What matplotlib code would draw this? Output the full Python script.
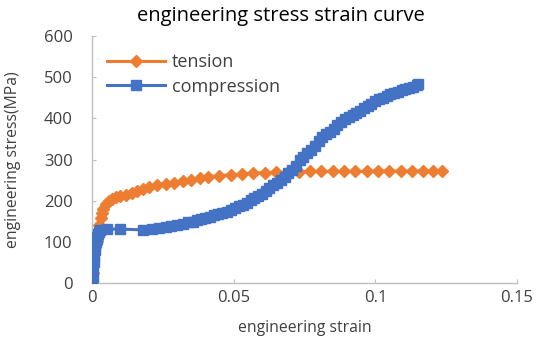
import matplotlib
matplotlib.use("Agg")
import matplotlib.pyplot as plt

plt.rcParams['font.family'] = ['Open Sans', 'DejaVu Sans']

title = "engineering stress strain curve"
xlabel = "engineering strain"
ylabel = "engineering stress(MPa)"
xticks = [0, 0.05, 0.1, 0.15]
xticklabels = ["0", "0.05", "0.1", "0.15"]
yticks = [0, 100, 200, 300, 400, 500, 600]

tension_strain = [0, 0.0002, 0.0004, 0.0006, 0.0008, 0.001, 0.0013, 0.0016, 0.002, 0.0025,
                  0.003, 0.0035, 0.004, 0.005, 0.006, 0.007, 0.0085, 0.010, 0.012, 0.014,
                  0.016, 0.018, 0.020, 0.023, 0.026, 0.029, 0.032, 0.035, 0.038, 0.041,
                  0.045, 0.049, 0.053, 0.057, 0.061, 0.065, 0.069, 0.073, 0.077, 0.081,
                  0.085, 0.089, 0.093, 0.097, 0.101, 0.105, 0.109, 0.113, 0.117, 0.1205, 0.1235]
tension_stress = [0, 25, 55, 70, 80, 88, 95, 102, 118, 140,
                  158, 171, 180, 191, 200, 205, 209, 211, 214, 219,
                  224, 229, 233, 237, 241, 244, 247, 251, 255, 258,
                  261, 263, 265, 267, 268, 269, 270, 270, 271, 271,
                  271, 271, 271, 271, 272, 272, 272, 272, 272, 272, 272]

compression_strain = [0, 0.0002, 0.0004, 0.0006, 0.0008, 0.001, 0.0012, 0.0014, 0.0016, 0.0018,
                      0.002, 0.0023, 0.0028, 0.0053, 0.0099, 0.018, 0.021, 0.0235, 0.026, 0.028,
                      0.030, 0.032, 0.034, 0.0355, 0.037, 0.0385, 0.040, 0.0415, 0.043, 0.0445,
                      0.046, 0.0475, 0.049, 0.0505, 0.052, 0.0533, 0.0546, 0.056, 0.0573, 0.0586,
                      0.060, 0.0613, 0.0626, 0.064, 0.0653, 0.0666, 0.068, 0.0693, 0.0706, 0.072,
                      0.0733, 0.0746, 0.076, 0.0773, 0.0786, 0.080, 0.0813, 0.0826, 0.084, 0.0853,
                      0.0866, 0.088, 0.0893, 0.0906, 0.092, 0.0933, 0.0946, 0.096, 0.0973, 0.0986,
                      0.100, 0.1013, 0.1026, 0.104, 0.1053, 0.1066, 0.108, 0.1093, 0.1106, 0.112,
                      0.1133, 0.1146, 0.115]
compression_stress = [0, 15, 39, 52, 66, 80, 90, 99, 106, 112,
                      118, 124, 129, 131, 131, 129, 131, 134, 136, 138,
                      141, 144, 147, 149, 152, 155, 158, 161, 164, 167,
                      170, 173, 177, 181, 186, 190, 195, 201, 206, 211,
                      217, 224, 231, 238, 243, 250, 258, 266, 274, 284,
                      298, 306, 315, 324, 333, 344, 354, 361, 368, 375,
                      384, 392, 398, 404, 409, 414, 419, 425, 430, 436,
                      441, 446, 450, 454, 458, 462, 465, 468, 471, 474,
                      477, 480, 483]

orange = "#ED7D31"
blue = "#4472C4"
text_color = "#404040"
axis_color = "#BFBFBF"

fig = plt.figure(figsize=(5.41, 3.44), dpi=100)
ax = fig.add_axes([92/541, 1 - 283/344, (517 - 92)/541, (283 - 36)/344])

ax.plot(tension_strain, tension_stress, color=orange, lw=2.2, marker='D', ms=6.5,
        label="tension", zorder=2)
ax.plot(compression_strain, compression_stress, color=blue, lw=2.2, marker='s', ms=6.5,
        label="compression", zorder=3)

ax.set_xlim(0, 0.15)
ax.set_ylim(0, 600)
ax.set_xticks(xticks)
ax.set_xticklabels(xticklabels)
ax.set_yticks(yticks)

for s in ["top", "right"]:
    ax.spines[s].set_visible(False)
for s in ["left", "bottom"]:
    ax.spines[s].set_color(axis_color)
    ax.spines[s].set_linewidth(1.0)
ax.tick_params(axis='both', direction='in', length=3, color=axis_color,
               labelcolor=text_color, labelsize=12)
ax.tick_params(axis='x', pad=5)
ax.tick_params(axis='y', pad=14)
ax.patch.set_visible(False)

fig.text(281/541, 1 - 16/344, title, fontsize=14.5, color="#000000",
         ha='center', va='center')
ax.set_xlabel(xlabel, fontsize=11.3, color=text_color, labelpad=10)
ax.set_ylabel(ylabel, fontsize=11.3, color=text_color, labelpad=16)

leg = ax.legend(loc="upper left", bbox_to_anchor=(15/425, 0.93), frameon=False,
                fontsize=13, handlelength=3.2, handletextpad=0.4, labelspacing=0.35,
                borderpad=0, borderaxespad=0, labelcolor=text_color)

fig.savefig("out.png", dpi=100)
